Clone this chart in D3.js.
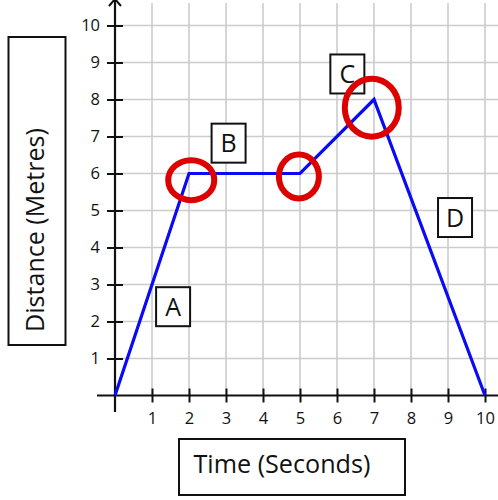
<!DOCTYPE html>
<html><head><meta charset="utf-8">
<script src="https://cdn.jsdelivr.net/npm/d3@7/dist/d3.min.js"></script>
<style>body{margin:0;background:#fff}svg{display:block}</style>
</head><body>
<svg id="c" width="498" height="500"></svg>
<script>
const timeValues = [0, 2, 5, 7, 10];
const distanceValues = [0, 6, 6, 8, 0];
const xTicks = [1,2,3,4,5,6,7,8,9,10];
const yTicks = [1,2,3,4,5,6,7,8,9,10];
const sectionLabels = ["A","B","C","D"];
const sectionLabelX = [1.57, 3.07, 6.28, 9.19];
const sectionLabelY = [2.4, 6.82, 8.69, 4.81];
const circleX = [2.06, 4.97, 6.94];
const circleY = [5.82, 5.92, 7.78];
const circleRx = [23, 20, 27];
const circleRy = [20, 22, 29];
const xTitle = "Time (Seconds)";
const yTitle = "Distance (Metres)";

const svg = d3.select("#c");
const x = d3.scaleLinear().domain([0,10]).range([115,485]);
const y = d3.scaleLinear().domain([0,10]).range([395.5,25.5]);
const font = "'Open Sans', sans-serif";

// grid
svg.append("g").selectAll("line").data(xTicks).join("line")
  .attr("x1", d=>x(d)).attr("x2", d=>x(d)).attr("y1", 3).attr("y2", y(0))
  .attr("stroke", "#cccccc").attr("stroke-width", 1.6);
svg.append("g").selectAll("line").data(yTicks).join("line")
  .attr("x1", x(0)).attr("x2", 498).attr("y1", d=>y(d)).attr("y2", d=>y(d))
  .attr("stroke", "#cccccc").attr("stroke-width", 1.6);

// axes
const gx = svg.append("g").attr("transform", `translate(0,${y(0)})`)
  .call(d3.axisBottom(x).tickValues(xTicks).tickSize(7).tickPadding(0));
gx.select(".domain").remove();
gx.selectAll(".tick line").attr("y1", -7).attr("y2", 7).attr("stroke", "#111").attr("stroke-width", 2);
gx.selectAll(".tick text").attr("y", 17).attr("dy", "0.71em").attr("font-size", 16.5).attr("font-family", font).attr("fill", "#111");

const gy = svg.append("g").attr("transform", `translate(${x(0)},0)`)
  .call(d3.axisLeft(y).tickValues(yTicks).tickSize(8).tickPadding(0));
gy.select(".domain").remove();
gy.selectAll(".tick line").attr("x1", -8).attr("x2", 8).attr("stroke", "#111").attr("stroke-width", 2);
gy.selectAll(".tick text").attr("x", -15).attr("font-size", 16.5).attr("font-family", font).attr("fill", "#111");

// axis lines
svg.append("line").attr("x1", 97).attr("x2", 498).attr("y1", y(0)).attr("y2", y(0))
  .attr("stroke", "#111").attr("stroke-width", 2.2);
svg.append("line").attr("x1", x(0)).attr("x2", x(0)).attr("y1", -1).attr("y2", 412)
  .attr("stroke", "#111").attr("stroke-width", 2.2);
svg.append("path").attr("d", `M${x(0)-6},6 L${x(0)},-1 L${x(0)+6},6`)
  .attr("fill", "none").attr("stroke", "#111").attr("stroke-width", 2);

// line
const pts = timeValues.map((t,i)=>[t, distanceValues[i]]);
svg.append("path").datum(pts)
  .attr("d", d3.line().x(d=>x(d[0])).y(d=>y(d[1])))
  .attr("fill", "none").attr("stroke", "#0a0af5").attr("stroke-width", 3.2)
  .attr("stroke-linejoin", "miter");

// labels boxes
const lb = svg.append("g").selectAll("g").data(sectionLabels).join("g")
  .attr("transform", (d,i)=>`translate(${x(sectionLabelX[i])},${y(sectionLabelY[i])})`);
lb.append("rect").attr("x", -17).attr("y", -19.5).attr("width", 34).attr("height", 39)
  .attr("fill", "#fff").attr("stroke", "#111").attr("stroke-width", 2);
lb.append("text").text(d=>d).attr("text-anchor", "middle").attr("y", 9)
  .attr("font-size", 25).attr("font-family", font).attr("fill", "#111");

// red circles
svg.append("g").selectAll("ellipse").data(circleX).join("ellipse")
  .attr("cx", d=>x(d)).attr("cy", (d,i)=>y(circleY[i]))
  .attr("rx", (d,i)=>circleRx[i]).attr("ry", (d,i)=>circleRy[i])
  .attr("fill", "none").attr("stroke", "#dd0000").attr("stroke-width", 6);

// titles
svg.append("rect").attr("x", 8.5).attr("y", 37).attr("width", 57).attr("height", 308)
  .attr("fill", "#fff").attr("stroke", "#111").attr("stroke-width", 2);
const yt = svg.append("text").text(yTitle)
  .attr("transform", "translate(44,230) rotate(-90)").attr("text-anchor", "middle")
  .attr("font-size", 22).attr("font-family", font).attr("fill", "#111");
svg.append("rect").attr("x", 179).attr("y", 439).attr("width", 226).attr("height", 56)
  .attr("fill", "#fff").attr("stroke", "#111").attr("stroke-width", 2);
const xt = svg.append("text").text(xTitle)
  .attr("x", 193.5).attr("y", 472.7)
  .attr("font-size", 22).attr("font-family", font).attr("fill", "#111");
// fit title widths to reference extents
function fit(t, w){ const l = t.node().getComputedTextLength(); t.attr("font-size", 22*w/l); }
fit(xt, 177); fit(yt, 204);
</script>
</body></html>
